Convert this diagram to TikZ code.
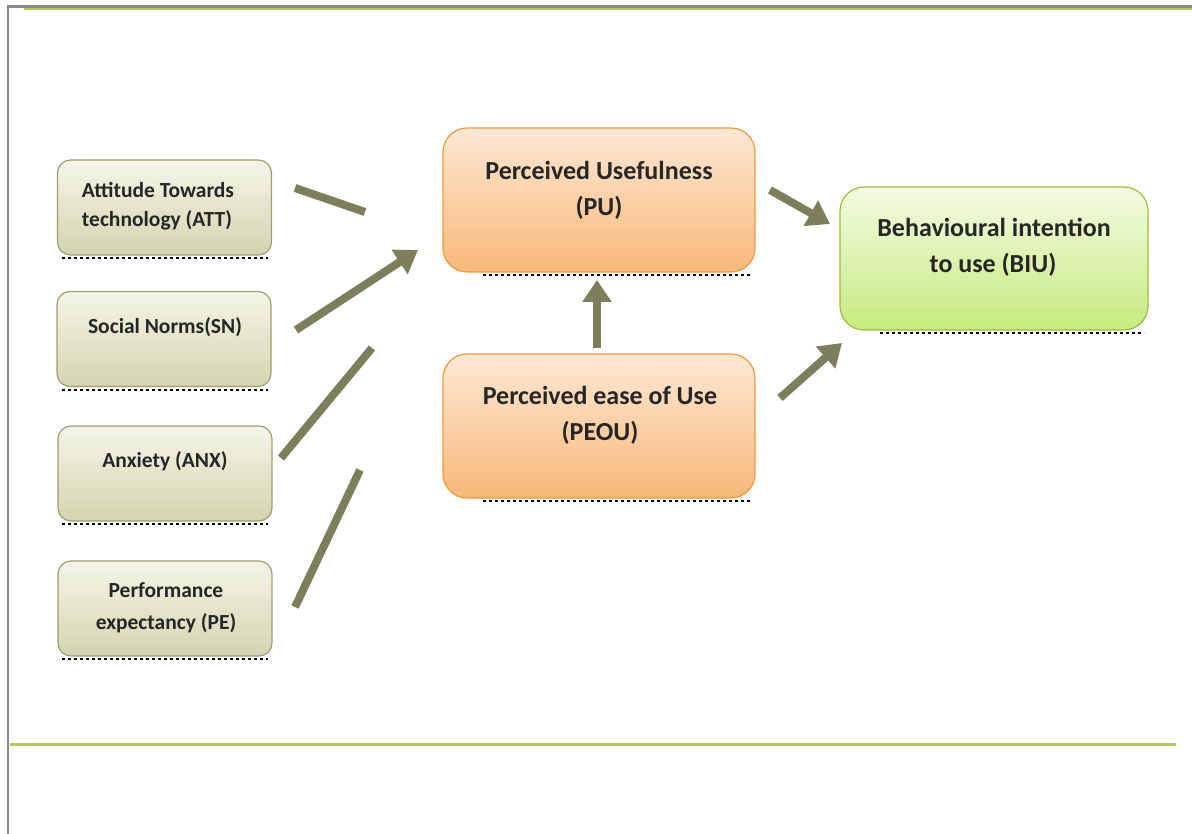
\documentclass[tikz,border=0pt]{standalone}
\usepackage{fontspec}
\setmainfont{Carlito}
\usetikzlibrary{arrows.meta}
\definecolor{framegray}{HTML}{8A8A8A}
\definecolor{framegreen}{HTML}{B3C95A}
\definecolor{olivearrow}{HTML}{7E7E5A}
\definecolor{khakitop}{HTML}{F5F5E8}
\definecolor{khakibot}{HTML}{D4D4B0}
\definecolor{khakiedge}{HTML}{9E9E70}
\definecolor{orangetop}{HTML}{FDE8D4}
\definecolor{orangebot}{HTML}{F8B878}
\definecolor{orangeedge}{HTML}{F09A3A}
\definecolor{greentop}{HTML}{F3FBE2}
\definecolor{greenbot}{HTML}{C6EB7E}
\definecolor{greenedge}{HTML}{98C03C}
\tikzset{
  smallbox/.style={draw=khakiedge, line width=1.2pt, rounded corners=13pt,
    top color=khakitop, bottom color=khakibot, minimum width=214pt, minimum height=95pt},
  orangebox/.style={draw=orangeedge, line width=1.2pt, rounded corners=24pt,
    top color=orangetop, bottom color=orangebot, minimum width=312pt, minimum height=144pt},
  greenbox/.style={draw=greenedge, line width=1.2pt, rounded corners=24pt,
    top color=greentop, bottom color=greenbot, minimum width=308pt, minimum height=143pt},
  smalltext/.style={inner sep=0pt, font=\fontsize{21.5}{26}\selectfont\bfseries, text=black!85},
  bigtext/.style={inner sep=0pt, font=\fontsize{26}{31}\selectfont\bfseries, text=black!85},
  fatarrow/.style={draw=olivearrow, line width=8pt,
    -{Triangle[width=28pt,length=22pt]}},
  fatline/.style={draw=olivearrow, line width=8pt},
  shadowline/.style={draw=black, line width=2.5pt, dash pattern=on 3pt off 3pt}
}
\begin{document}
\begin{tikzpicture}[x=1pt,y=-1pt]
\useasboundingbox (0,0) rectangle (1192,834);
% frame
\draw[framegray, line width=2.5pt] (8,834) -- (8,6.5) -- (1192,6.5);
\draw[framegreen, line width=2pt] (24,9) -- (1192,9);
\draw[framegreen, line width=3pt] (10,744) -- (1176,744);

% shadows
\draw[shadowline] (62,258) -- (268,258);
\draw[shadowline] (62,390) -- (268,390);
\draw[shadowline] (62,524) -- (268,524);
\draw[shadowline] (62,659) -- (268,659);
\draw[shadowline] (483,275) -- (752,275);
\draw[shadowline] (483,501) -- (752,501);
\draw[shadowline] (880,333) -- (1144,333);

% left boxes
\node[smallbox] (att) at (164.5,207.5) {};
\node[smallbox] (sn)  at (164,339) {};
\node[smallbox] (anx) at (165,473.5) {};
\node[smallbox] (pe)  at (165,608.5) {};
\node[smalltext] (att1) at (158,190) {Attitude Towards};
\node[smalltext] (att2) at (157,220) {technology (ATT)};
\node[smalltext] (sn1)  at (165,327) {Social Norms(SN)};
\node[smalltext] (anx1) at (165,461) {Anxiety (ANX)};
\node[smalltext] (pe1)  at (166,590) {Performance};
\node[smalltext] (pe2)  at (166,623) {expectancy (PE)};

% central boxes
\node[orangebox] (pu)   at (599,200) {};
\node[orangebox] (peou) at (599,426) {};
\node[greenbox]  (biu)  at (994,258.5) {};
\node[bigtext] (pu1) at (599,170) {Perceived Usefulness};
\node[bigtext] (pu2) at (599,208) {(PU)};
\node[bigtext] (peou1) at (600,395) {Perceived ease of Use};
\node[bigtext] (peou2) at (600,433) {(PEOU)};
\node[bigtext] (biu1) at (994,227) {Behavioural intention};
\node[bigtext] (biu2) at (993,265) {to use (BIU)};

% connector end points
\coordinate (attstart) at (295,188);
\coordinate (attend)   at (365,212);
\coordinate (snstart)  at (296,330);
\coordinate (snend)    at (418,250);
\coordinate (anxstart) at (281,458);
\coordinate (anxend)   at (372,348);
\coordinate (pestart)  at (295,607);
\coordinate (peend)    at (360,470);
\coordinate (pustart)  at (770,190);
\coordinate (puend)    at (830,224);
\coordinate (peoutop)  at (597,348);
\coordinate (puup)     at (597,280);
\coordinate (peouright) at (780,398);
\coordinate (biuend)   at (842,343);

\draw[fatline]  (attstart) -- (attend);
\draw[fatarrow] (snstart) -- (snend);
\draw[fatline]  (anxstart) -- (anxend);
\draw[fatline]  (pestart) -- (peend);
\draw[fatarrow] (peoutop) -- (puup);
\draw[fatarrow] (pustart) -- (puend);
\draw[fatarrow] (peouright) -- (biuend);
\end{tikzpicture}
\end{document}
